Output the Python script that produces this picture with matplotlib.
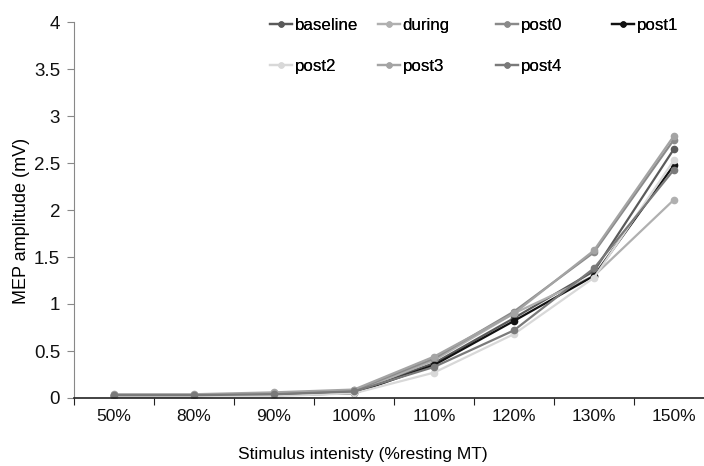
import matplotlib
matplotlib.use("Agg")
import matplotlib.pyplot as plt

plt.rcParams['font.family'] = ['Liberation Sans', 'DejaVu Sans']

categories = ["50%", "80%", "90%", "100%", "110%", "120%", "130%", "150%"]
series_names = ["baseline", "during", "post0", "post1", "post2", "post3", "post4"]
baseline = [0.03, 0.03, 0.04, 0.07, 0.37, 0.85, 1.35, 2.65]
during = [0.02, 0.02, 0.03, 0.06, 0.40, 0.90, 1.30, 2.11]
post0 = [0.03, 0.03, 0.05, 0.08, 0.42, 0.92, 1.55, 2.75]
post1 = [0.02, 0.02, 0.03, 0.05, 0.35, 0.82, 1.30, 2.48]
post2 = [0.02, 0.02, 0.02, 0.05, 0.27, 0.68, 1.28, 2.53]
post3 = [0.04, 0.04, 0.06, 0.09, 0.44, 0.90, 1.57, 2.79]
post4 = [0.03, 0.03, 0.04, 0.07, 0.33, 0.72, 1.38, 2.43]
yticks = [0, 0.5, 1, 1.5, 2, 2.5, 3, 3.5, 4]
ytick_labels = ["0", "0.5", "1", "1.5", "2", "2.5", "3", "3.5", "4"]

data = [baseline, during, post0, post1, post2, post3, post4]
colors = ["#5a5a5a", "#b0b0b0", "#8a8a8a", "#111111", "#d8d8d8", "#a4a4a4", "#7a7a7a"]

fig = plt.figure(figsize=(7.04, 4.66), dpi=100)
ax = fig.add_axes([74/704, 68/466, 640/704, 376/466])

x = list(range(len(categories)))
lines = []
for name, vals, c in zip(series_names, data, colors):
    ln, = ax.plot(x, vals, color=c, lw=1.6, marker="o", ms=4.5, label=name)
    lines.append(ln)

ax.set_xlim(-0.5, len(categories) - 0.5)
ax.set_ylim(0, 4)
ax.set_xticks([i - 0.5 for i in range(len(categories) + 1)])
ax.set_xticklabels([])
ax.set_xticks(x, minor=True)
ax.set_xticklabels(categories, minor=True)
ax.tick_params(axis="x", which="minor", length=0, labelsize=12.5, pad=8, colors="#111111")
ax.tick_params(axis="x", which="major", length=5, direction="out", color="#222222")
ax.set_yticks(yticks)
ax.set_yticklabels(ytick_labels)
ax.tick_params(axis="y", length=5, direction="out", labelsize=13.5, pad=5, color="#888888", labelcolor="#111111")
ax.spines["top"].set_visible(False)
ax.spines["right"].set_visible(False)
ax.spines["left"].set_color("#888888")
ax.spines["bottom"].set_color("#222222")
ax.spines["bottom"].set_linewidth(1.2)

ax.set_ylabel("MEP amplitude (mV)", fontsize=13, va="center", ha="center")
ax.yaxis.set_label_coords((22 - 74)/640, 177/376)
ax.set_xlabel("Stimulus intenisty (%resting MT)", fontsize=12.5, va="center", ha="center")
ax.xaxis.set_label_coords((363 - 74)/640, -57/376)

col_x = [270, 378, 496, 612]
cols = [[0, 4], [1, 5], [2, 6], [3]]
for cx, idxs in zip(col_x, cols):
    leg = fig.legend([lines[i] for i in idxs], [series_names[i] for i in idxs],
                     loc="upper left", bbox_to_anchor=(cx/704, 1 - 18/466),
                     frameon=False, fontsize=12.2, handlelength=1.3,
                     handletextpad=0.15, borderpad=0, borderaxespad=0,
                     labelspacing=1.55, markerscale=0.8)
    fig.add_artist(leg)

fig.savefig("out.png", dpi=100)
